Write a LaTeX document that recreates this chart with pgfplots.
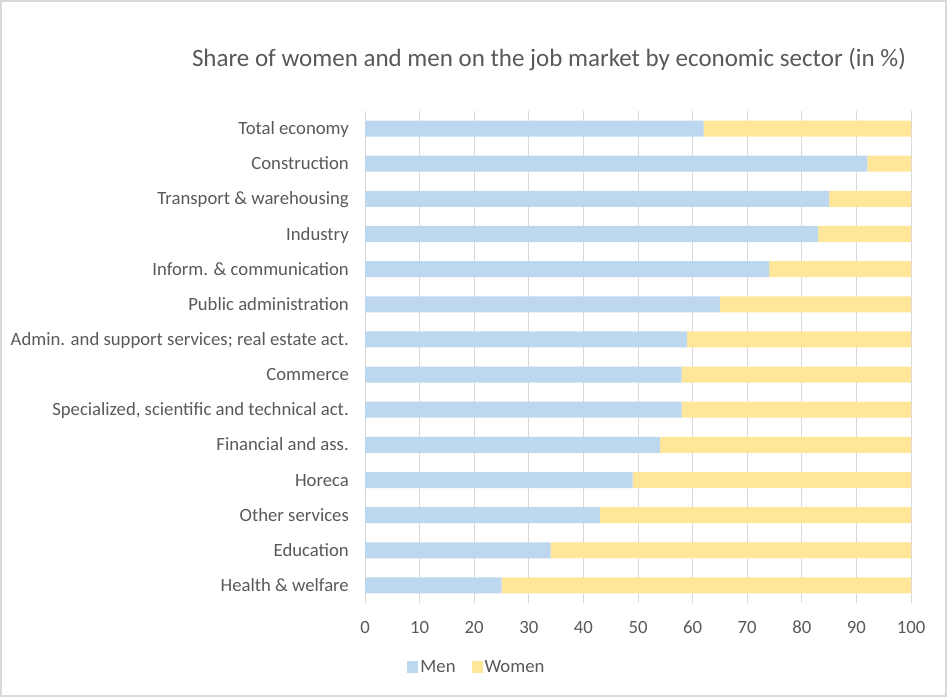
\documentclass[border=0pt]{standalone}
\usepackage{pgfplots}
\pgfplotsset{compat=1.18}
\usepackage{fontspec}
\setmainfont{Carlito}

\definecolor{menblue}{HTML}{BDD7EE}
\definecolor{womenyellow}{HTML}{FFE699}
\definecolor{txtgray}{HTML}{595959}
\definecolor{gridgray}{HTML}{D9D9D9}

\begin{document}
\begin{tikzpicture}[x=1pt,y=1pt]
% frame of the chart area
\useasboundingbox (0,0) rectangle (947,697);
\draw[gridgray, line width=1.2pt] (1,1) rectangle (946,696);

\node[anchor=base, text=txtgray, font=\fontsize{25}{29}\selectfont] at (549,630)
    {Share of women and men on the job market by economic sector (in \%)};

\begin{axis}[
    at={(365pt,94pt)}, anchor=south west,
    scale only axis,
    width=546pt, height=492pt,
    xbar stacked,
    bar width=16pt,
    xmin=0, xmax=100,
    ymin=-0.5, ymax=13.5,
    xtick={0,10,...,100},
    ytick={0,...,13},
    yticklabels={Health \& welfare, Education, Other services, Horeca,
        Financial and ass., {Specialized, scientific and technical act.},
        Commerce, {Admin. and support services; real estate act.},
        Public administration, Inform. \& communication, Industry,
        Transport \& warehousing, Construction, Total economy},
    axis y line*=left,
    axis x line*=bottom,
    x axis line style={draw=none},
    y axis line style={draw=gridgray, line width=1pt},
    major tick length=0pt,
    xmajorgrids,
    grid style={draw=gridgray, line width=1pt},
    ticklabel style={text=txtgray, font=\fontsize{18.7}{22}\selectfont},
    /pgf/number format/assume math mode=true,
    yticklabel style={anchor=base east, xshift=-16pt, yshift=-6pt, inner sep=0pt},
    xticklabel style={anchor=base, yshift=-30pt, inner sep=0pt},
    legend style={at={(0.205,-0.13)}, anchor=center, draw=none, fill=none,
        legend columns=2, text=txtgray, font=\fontsize{18.7}{22}\selectfont,
        /tikz/every even column/.append style={column sep=14pt}},
    legend image code/.code={\fill[#1,draw=none] (0pt,-6pt) rectangle (11pt,6pt);},
]
\addplot[fill=menblue, draw=none] coordinates {
    (25,0) (34,1) (43,2) (49,3) (54,4) (58,5) (58,6) (59,7)
    (65,8) (74,9) (83,10) (85,11) (92,12) (62,13)};
\addplot[fill=womenyellow, draw=none] coordinates {
    (75,0) (66,1) (57,2) (51,3) (46,4) (42,5) (42,6) (41,7)
    (35,8) (26,9) (17,10) (15,11) (8,12) (38,13)};
\legend{Men, Women}
\end{axis}
\end{tikzpicture}
\end{document}
